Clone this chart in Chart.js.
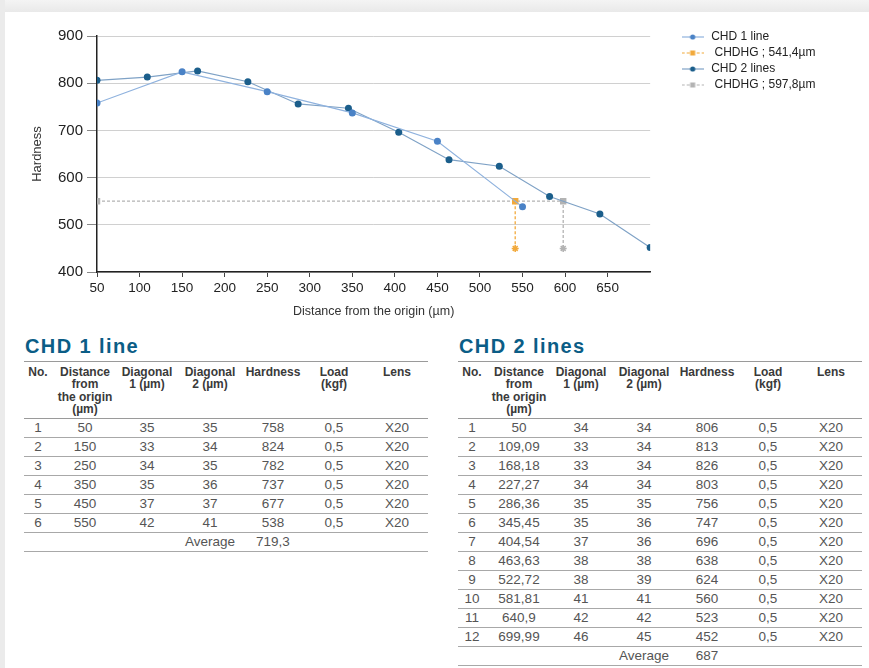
<!DOCTYPE html>
<html>
<head>
<meta charset="utf-8">
<script src="https://cdn.jsdelivr.net/npm/chart.js@4.4.1/dist/chart.umd.min.js"></script>
<style>
  html, body { margin: 0; padding: 0; background: #ffffff; }
  body { width: 869px; height: 668px; position: relative; overflow: hidden; font-family: "Liberation Sans", Arial, sans-serif; }
  #topStrip { position: absolute; left: 0; top: 0; width: 869px; height: 12px; background: linear-gradient(#f4f4f4, #e9e9e9); }
  #leftStrip { position: absolute; left: 0; top: 0; width: 5px; height: 668px; background: #ebebeb; }
  #chartBox { position: absolute; left: 5px; top: 13px; width: 864px; height: 312px; }
  .tblTitle { position: absolute; top: 336px; font-weight: bold; font-size: 20px; line-height: 20px; letter-spacing: 1.4px; color: #0b5d86; }
  .tbl { position: absolute; top: 361px; width: 404px; }
  .hdr { display: flex; border-top: 1px solid #9a9a9a; border-bottom: 1px solid #9a9a9a; padding: 3.5px 0 2.5px 0; font-weight: bold; font-size: 12px; line-height: 12.5px; color: #3a3a3a; }
  .row { display: flex; border-bottom: 1px solid #a8a8a8; font-size: 13.5px; line-height: 18px; height: 18px; color: #555; }
  .cell { text-align: center; flex: none; white-space: nowrap; }
</style>
</head>
<body>
<div id="topStrip"></div>
<div id="leftStrip"></div>
<div id="chartBox"><canvas id="c" width="864" height="312"></canvas></div>

<div class="tblTitle" style="left:25px">CHD 1 line</div>
<div class="tbl" id="t1" style="left:24px"></div>
<div class="tblTitle" style="left:459px">CHD 2 lines</div>
<div class="tbl" id="t2" style="left:458px"></div>

<script>
// ---------- data ----------
const chd1Distance = [50, 150, 250, 350, 450, 550];
const chd1Diag1    = [35, 33, 34, 35, 37, 42];
const chd1Diag2    = [35, 34, 35, 36, 37, 41];
const chd1Hardness = [758, 824, 782, 737, 677, 538];
const chd1Average  = "719,3";

const chd2Distance = [50, 109.09, 168.18, 227.27, 286.36, 345.45, 404.54, 463.63, 522.72, 581.81, 640.9, 699.99];
const chd2Diag1    = [34, 33, 33, 34, 35, 35, 37, 38, 38, 41, 42, 46];
const chd2Diag2    = [34, 34, 34, 34, 35, 36, 36, 38, 39, 41, 42, 45];
const chd2Hardness = [806, 813, 826, 803, 756, 747, 696, 638, 624, 560, 523, 452];
const chd2Average  = "687";

const loadValue = "0,5";
const lensValue = "X20";

const chdhg1X = [541.4, 541.4];
const chdhg1Y = [550, 450];
const chdhg2X = [50, 597.8, 597.8];
const chdhg2Y = [550, 550, 450];

const seriesLabels = ["CHD 1 line", " CHDHG ; 541,4µm", "CHD 2 lines", " CHDHG ; 597,8µm"];
const xTickValues = [50, 100, 150, 200, 250, 300, 350, 400, 450, 500, 550, 600, 650];
const yTickValues = [400, 500, 600, 700, 800, 900];
const xTitle = "Distance from the origin (µm)";
const yTitle = "Hardness";

const headers = ["No.", "Distance<br>from<br>the origin<br>(µm)", "Diagonal<br>1 (µm)", "Diagonal<br>2 (µm)", "Hardness", "Load<br>(kgf)", "Lens"];

// ---------- tables ----------
const colW = [28, 66, 58, 68, 58, 64, 62];
const fmt = v => String(v).replace('.', ',');
function buildTable(el, dist, d1, d2, hard, avg) {
  let h = '<div class="hdr">' + headers.map((t, i) => `<div class="cell" style="width:${colW[i]}px">${t}</div>`).join('') + '</div>';
  dist.forEach((d, i) => {
    const vals = [i + 1, fmt(d), d1[i], d2[i], hard[i], loadValue, lensValue];
    h += '<div class="row">' + vals.map((v, j) => `<div class="cell" style="width:${colW[j]}px">${v}</div>`).join('') + '</div>';
  });
  const avgRow = ['', '', '', 'Average', avg, '', ''];
  h += '<div class="row">' + avgRow.map((v, j) => `<div class="cell" style="width:${colW[j]}px">${v}</div>`).join('') + '</div>';
  el.innerHTML = h;
}
buildTable(document.getElementById('t1'), chd1Distance, chd1Diag1, chd1Diag2, chd1Hardness, chd1Average);
buildTable(document.getElementById('t2'), chd2Distance, chd2Diag1, chd2Diag2, chd2Hardness, chd2Average);

// ---------- chart ----------
const C1_LINE = '#8fb2de', C1_PT = '#4a82c6';
const C2_LINE = '#7fa2c6', C2_PT = '#1b5e8b';
const OR = '#f2a93b', GR = '#b3b3b3';
const RIGHT_GAP = 29;
const LEGEND_OFFSET = 26;

function legendIcon(lineColor, dash, markerColor, shape) {
  const c = document.createElement('canvas');
  c.width = 22; c.height = 8;
  const g = c.getContext('2d');
  g.strokeStyle = lineColor; g.lineWidth = 1.2; g.setLineDash(dash);
  g.beginPath(); g.moveTo(0, 4); g.lineTo(22, 4); g.stroke();
  g.setLineDash([]);
  g.fillStyle = markerColor;
  g.beginPath();
  if (shape === 'circle') { g.arc(11, 4, 2.6, 0, Math.PI * 2); g.fill(); }
  else { g.fillRect(8.5, 1.5, 5, 5); }
  return c;
}
const legendIcons = [
  legendIcon(C1_LINE, [], C1_PT, 'circle'),
  legendIcon(OR, [3, 2], OR, 'rect'),
  legendIcon(C2_LINE, [], C2_PT, 'circle'),
  legendIcon(GR, [3, 2], GR, 'rect')
];

const legendPlacer = {
  id: 'legendPlacer',
  afterLayout(chart) {
    const l = chart.legend;
    if (!l) return;
    l.left = chart.chartArea.right + LEGEND_OFFSET;
    l.right = chart.width;
    l.width = l.right - l.left;
  }
};

const pts = (xs, ys) => xs.map((x, i) => ({x: x, y: ys[i]}));

Chart.defaults.font.family = "'Liberation Sans', Arial, sans-serif";

new Chart(document.getElementById('c'), {
  type: 'line',
  plugins: [legendPlacer],
  data: {
    datasets: [
      { label: seriesLabels[0], data: pts(chd1Distance, chd1Hardness), borderColor: C1_LINE, borderWidth: 1.2,
        pointBackgroundColor: C1_PT, pointBorderColor: C1_PT, pointRadius: 3.5, pointBorderWidth: 0, xAxisID: 'x', yAxisID: 'y' },
      { label: seriesLabels[1], data: pts(chdhg1X, chdhg1Y), borderColor: OR, borderWidth: 1.3, borderDash: [3, 2],
        pointStyle: ['rect', 'star'], pointBackgroundColor: OR, pointBorderColor: OR, pointRadius: 3.5, pointBorderWidth: 1.5, xAxisID: 'x', yAxisID: 'y' },
      { label: seriesLabels[2], data: pts(chd2Distance, chd2Hardness), borderColor: C2_LINE, borderWidth: 1.2,
        pointBackgroundColor: C2_PT, pointBorderColor: C2_PT, pointRadius: 3.5, pointBorderWidth: 0, xAxisID: 'x', yAxisID: 'y' },
      { label: seriesLabels[3], data: pts(chdhg2X, chdhg2Y), borderColor: GR, borderWidth: 1.3, borderDash: [3, 2],
        pointStyle: ['rect', 'rect', 'star'], pointBackgroundColor: GR, pointBorderColor: GR, pointRadius: 3.5, pointBorderWidth: 1.5, xAxisID: 'x', yAxisID: 'y' }
    ]
  },
  options: {
    responsive: false,
    animation: false,
    layout: { padding: { left: 25, top: 14, right: 60, bottom: 6 } },
    scales: {
      x: {
        type: 'linear', position: 'bottom', min: xTickValues[0], max: Math.max(...chd2Distance),
        afterBuildTicks: s => { s.ticks = xTickValues.map(v => ({ value: v })); },
        ticks: { font: { size: 13.5 }, color: '#222', padding: 3, maxRotation: 0, autoSkip: false },
        grid: { drawOnChartArea: false, tickLength: 5, color: '#444' },
        border: { color: '#222', width: 1.5 },
        title: { display: true, text: xTitle, font: { size: 12.5 }, color: '#333', padding: { top: 0, bottom: 0 } },
        afterFit: s => { s.height = 47; }
      },
      y: {
        type: 'linear', position: 'left', min: yTickValues[0], max: yTickValues[yTickValues.length - 1],
        afterBuildTicks: s => { s.ticks = yTickValues.map(v => ({ value: v })); },
        ticks: { font: { size: 15 }, color: '#222', padding: 4, autoSkip: false },
        grid: { color: '#d0d0d0', tickLength: 10, tickColor: '#888' },
        border: { color: '#222', width: 1.5 },
        title: { display: true, text: yTitle, font: { size: 13 }, color: '#333', padding: { top: 0, bottom: 0 } },
        afterFit: s => { s.width = 67; }
      },
      yPad: { type: 'linear', position: 'right', display: true, grid: { display: false }, border: { display: false },
        ticks: { display: false }, afterFit: s => { s.width = RIGHT_GAP; } },
      xPad: { type: 'linear', position: 'top', display: true, grid: { display: false }, border: { display: false },
        ticks: { display: false }, afterFit: s => { s.height = 9; } }
    },
    plugins: {
      tooltip: { enabled: false },
      legend: {
        position: 'right', align: 'start',
        labels: {
          usePointStyle: true, pointStyleWidth: 25, padding: 4, color: '#222', font: { size: 12 },
          generateLabels: chart => {
            const items = Chart.defaults.plugins.legend.labels.generateLabels(chart);
            items.forEach((it, i) => { it.pointStyle = legendIcons[i]; });
            return items;
          }
        }
      }
    }
  }
});
</script>
</body>
</html>
